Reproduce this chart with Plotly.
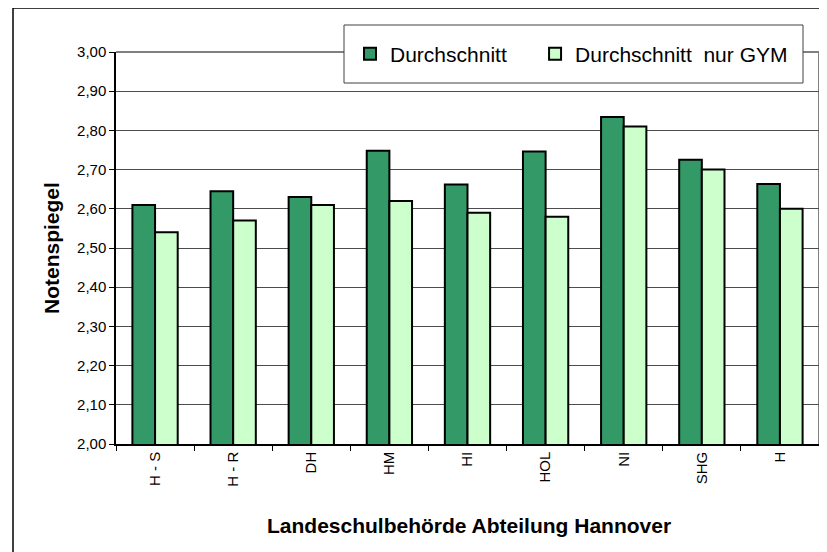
import plotly.graph_objects as go

categories = ["H - S", "H - R", "DH", "HM", "HI", "HOL", "NI", "SHG", "H"]
durchschnitt = [2.61, 2.645, 2.63, 2.748, 2.662, 2.746, 2.834, 2.725, 2.663]
durchschnitt_gym = [2.54, 2.57, 2.61, 2.62, 2.59, 2.58, 2.81, 2.70, 2.60]
y_ticks = [2.0, 2.1, 2.2, 2.3, 2.4, 2.5, 2.6, 2.7, 2.8, 2.9, 3.0]
y_tick_labels = ["2,00", "2,10", "2,20", "2,30", "2,40", "2,50", "2,60", "2,70", "2,80", "2,90", "3,00"]

FONT = "Arial, Liberation Sans, sans-serif"
OFF = 8  # page body margin
W, H = 827 - OFF, 552 - OFF
# plot area in page coordinates: x 116..819, y 52..444
L, R, T, B = 116 - OFF, 827 - 819, 52 - OFF, 552 - 444
pw, ph = W - L - R, H - T - B

def px_x(p):
    return (p - OFF - L) / pw

def px_y(p):
    return (H - B - (p - OFF)) / ph

fig = go.Figure()
fig.add_trace(go.Bar(x=categories, y=durchschnitt, name="Durchschnitt\u00a0\u00a0\u00a0\u00a0",
                     marker=dict(color="#339966", line=dict(color="black", width=2))))
fig.add_trace(go.Bar(x=categories, y=durchschnitt_gym, name="Durchschnitt\u00a0\u00a0nur GYM",
                     marker=dict(color="#CCFFCC", line=dict(color="black", width=2))))

shapes = [
    # legend box
    dict(type="rect", xref="paper", yref="paper", x0=px_x(344), x1=px_x(803), y0=px_y(83), y1=px_y(25),
         line=dict(color="#404040", width=1), fillcolor="white", layer="above"),
    # top / right plot border
    dict(type="line", xref="paper", yref="paper", x0=0, x1=1, y0=1, y1=1,
         line=dict(color="#808080", width=2), layer="below"),
    dict(type="line", xref="paper", yref="paper", x0=1, x1=1, y0=0, y1=1,
         line=dict(color="#808080", width=2), layer="below"),
    # outer frame
    dict(type="line", xref="paper", yref="paper", x0=px_x(13), x1=px_x(13), y0=px_y(600), y1=px_y(8),
         line=dict(color="black", width=1.5)),
    dict(type="line", xref="paper", yref="paper", x0=px_x(13), x1=px_x(900), y0=px_y(8), y1=px_y(8),
         line=dict(color="black", width=1.5)),
]

annotations = [
    dict(text="<b>Notenspiegel</b>", xref="paper", yref="paper", x=px_x(51), y=px_y(248),
         textangle=-90, showarrow=False, font=dict(family=FONT, size=21, color="black"),
         xanchor="center", yanchor="middle"),
    dict(text="<b>Landeschulbehörde Abteilung Hannover</b>", xref="paper", yref="paper",
         x=px_x(469), y=px_y(525), showarrow=False, font=dict(family=FONT, size=21, color="black"),
         xanchor="center", yanchor="middle"),
]

fig.update_layout(
    width=W, height=H,
    margin=dict(l=L, r=R, t=T, b=B),
    paper_bgcolor="white", plot_bgcolor="white",
    barmode="group", bargap=0.42, bargroupgap=0,
    font=dict(family=FONT, color="black"),
    shapes=shapes, annotations=annotations,
    legend=dict(orientation="h", x=px_x(350), y=px_y(54), xanchor="left", yanchor="middle",
                bgcolor="rgba(0,0,0,0)", borderwidth=0, font=dict(family=FONT, size=21),
                traceorder="normal"),
    xaxis=dict(showline=True, linecolor="black", linewidth=1.5, ticks="outside", ticklen=5,
               tickcolor="black", tickson="boundaries", tickangle=-90,
               tickfont=dict(family=FONT, size=15), showgrid=False),
    yaxis=dict(range=[2.0, 3.0], tickvals=y_ticks, ticktext=y_tick_labels, showline=True,
               linecolor="black", linewidth=1.5, ticks="outside", ticklen=5, tickcolor="black",
               tickfont=dict(family=FONT, size=15), showgrid=True, gridcolor="#4d4d4d",
               gridwidth=1, zeroline=False),
)

fig.write_html("out.html")
